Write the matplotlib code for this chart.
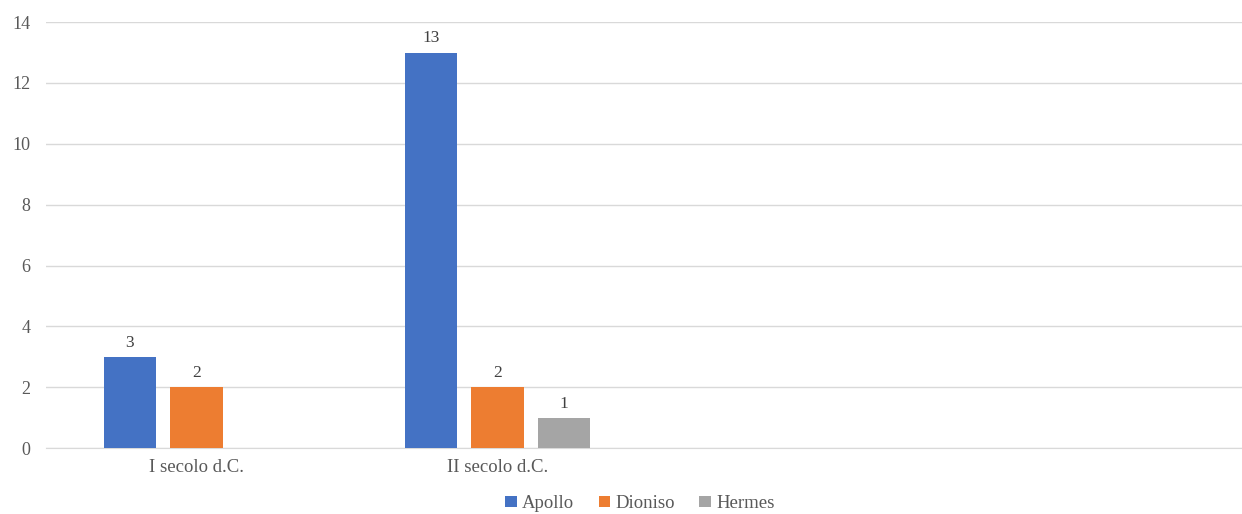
import numpy as np
import matplotlib.pyplot as plt

plt.rcParams['font.family'] = ['Liberation Serif', 'DejaVu Serif']

categories = ['I secolo d.C.', 'II secolo d.C.', '', '']
series = ['Apollo', 'Dioniso', 'Hermes']
values = {
    'Apollo': [3, 13, None, None],
    'Dioniso': [2, 2, None, None],
    'Hermes': [None, 1, None, None],
}
colors = ['#4472C4', '#ED7D31', '#A5A5A5']

fig = plt.figure(figsize=(12.42, 5.14), dpi=100)
ax = fig.add_axes([46 / 1242, 0.128, 1204 / 1242, 0.829])

x = np.arange(len(categories))
width = 0.173
step = 0.222
for k, name in enumerate(series):
    vals = np.array([np.nan if v is None else v for v in values[name]], dtype=float)
    pos = x + (k - 1) * step
    bars = ax.bar(pos, vals, width, color=colors[k], label=name, zorder=3)
    for b, v in zip(bars, vals):
        if not np.isnan(v):
            ax.text(b.get_x() + b.get_width() / 2, v + 0.2, f'{int(v)}',
                    ha='center', va='bottom', fontsize=12.5, color='#404040')

ax.set_xlim(-0.5, len(categories) - 0.5)
ax.set_ylim(0, 14)
ax.set_yticks(range(0, 15, 2))
ax.set_xticks(x)
ax.set_xticklabels(categories, fontsize=13.5, color='#595959')
ax.tick_params(axis='y', labelsize=13, colors='#595959', length=0, pad=11)
ax.tick_params(axis='x', length=0, pad=8)
ax.grid(axis='y', color='#d9d9d9', linewidth=1, zorder=0)
for s in ['top', 'right', 'left']:
    ax.spines[s].set_visible(False)
ax.spines['bottom'].set_color('#d9d9d9')

ax.legend(loc='upper center', bbox_to_anchor=(594 / 1204, -0.11), ncol=3, frameon=False,
          fontsize=13.5, handlelength=0.6, handleheight=0.6, handletextpad=0.3,
          columnspacing=1.3, labelcolor='#595959', borderaxespad=0, borderpad=0)

fig.savefig('out.png', dpi=100)
